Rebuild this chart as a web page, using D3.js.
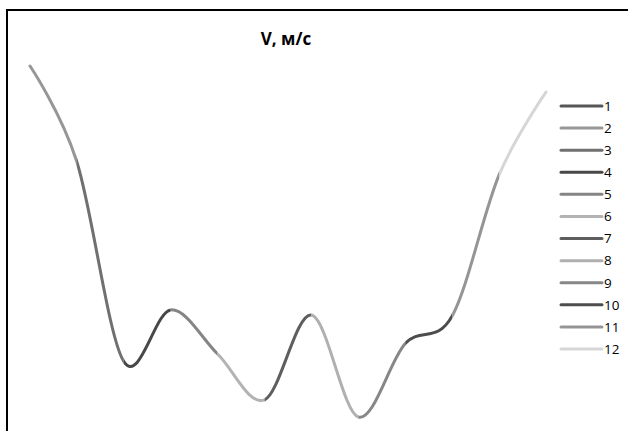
<!DOCTYPE html>
<html>
<head>
<meta charset="utf-8">
<script src="https://cdn.jsdelivr.net/npm/d3@7"></script>
<style>
  html, body { margin: 0; padding: 0; background: #fff; }
  svg { display: block; }
</style>
</head>
<body>
<svg id="chart" width="628" height="431"></svg>
<script>
// ---- data ----
const categories = ["1","2","3","4","5","6","7","8","9","10","11","12"];
const values = [11.8, 8.6, 1.95, 3.67, 2.2, 0.67, 3.5, 0.1, 2.55, 3.47, 8.17, 10.93];
const pointColors = ["#565656","#979797","#707070","#484848","#858585","#b3b3b3",
                     "#5e5e5e","#b0b0b0","#878787","#4d4d4d","#959595","#d6d6d6"];
const title = "V, м/с";

// ---- layout ----
const W = 628, H = 431;
const svg = d3.select("#chart");

// frame (right & bottom edges outside the view)
svg.append("rect")
  .attr("x", 7).attr("y", 10)
  .attr("width", 700).attr("height", 500)
  .attr("fill", "none").attr("stroke", "#000").attr("stroke-width", 2);

const x = d3.scalePoint().domain(categories).range([30, 546]);
const y = d3.scaleLinear().domain([0, 12]).range([420, 60]);

const data = categories.map((c, i) => ({ c, v: values[i] }));
const line = d3.line()
  .x(d => x(d.c))
  .y(d => y(d.v))
  .curve(d3.curveCardinal.tension(0));

const defs = svg.append("defs");
const g = svg.append("g");
for (let i = 1; i < categories.length; i++) {
  const x0 = x(categories[i - 1]), x1 = x(categories[i]);
  const id = "clip" + i;
  defs.append("clipPath").attr("id", id)
    .append("rect")
    .attr("x", i === 1 ? 0 : x0)
    .attr("y", 0)
    .attr("width", (i === categories.length - 1 ? W : x1) - (i === 1 ? 0 : x0))
    .attr("height", H);
  g.append("path")
    .datum(data)
    .attr("d", line)
    .attr("fill", "none")
    .attr("stroke", pointColors[i])
    .attr("stroke-width", 3)
    .attr("stroke-linecap", "round")
    .attr("stroke-linejoin", "round")
    .attr("clip-path", `url(#${id})`);
}

// title
svg.append("text")
  .attr("x", 286).attr("y", 45)
  .attr("text-anchor", "middle")
  .attr("font-family", "'Open Sans', 'DejaVu Sans', sans-serif")
  .attr("font-weight", "bold")
  .attr("font-size", 17)
  .attr("fill", "#000")
  .text(title);

// legend
const legend = svg.append("g");
const ly = d3.scalePoint().domain(categories).range([106, 349]);
categories.forEach((c, i) => {
  legend.append("line")
    .attr("x1", 561).attr("x2", 602)
    .attr("y1", ly(c)).attr("y2", ly(c))
    .attr("stroke", pointColors[i])
    .attr("stroke-width", 3)
    .attr("stroke-linecap", "round");
  legend.append("text")
    .attr("x", 604).attr("y", ly(c))
    .attr("dy", "0.36em")
    .attr("font-family", "'Open Sans', 'DejaVu Sans', sans-serif")
    .attr("font-size", 13.5)
    .attr("fill", "#000")
    .text(c);
});
</script>
</body>
</html>
